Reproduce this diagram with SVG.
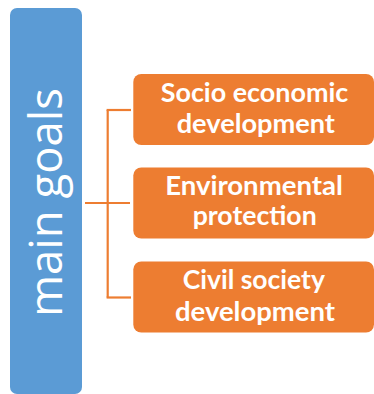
<svg xmlns="http://www.w3.org/2000/svg" width="374" height="394" viewBox="0 0 374 394">
  <style>
    .box { fill: #ED7D31; }
    .lbl { font-family: Lato, "Liberation Sans", sans-serif; font-weight: 700; font-size: 26px; fill: #FFFFFF; text-anchor: middle; }
    .conn { stroke: #ED7D31; stroke-width: 2.2; fill: none; }
    .main { font-family: "Open Sans", "Liberation Sans", sans-serif; font-weight: 400; font-size: 45px; fill: #FFFFFF; text-anchor: middle; }
  </style>
  <rect width="374" height="394" fill="#FFFFFF"/>
  <g id="connectors">
    <line class="conn" x1="107.7" y1="110" x2="107.7" y2="297.5"/>
    <line class="conn" x1="106.6" y1="110" x2="131" y2="110"/>
    <line class="conn" x1="106.6" y1="297.5" x2="131" y2="297.5"/>
    <line class="conn" x1="85" y1="203" x2="130" y2="203"/>
  </g>
  <g id="main-goals">
    <rect x="10" y="8" width="72" height="386" rx="7" fill="#5B9BD5"/>
    <text class="main" transform="translate(62,202.5) rotate(-90)" textLength="229" lengthAdjust="spacingAndGlyphs">main goals</text>
  </g>
  <g id="socio-economic">
    <rect class="box" x="133.3" y="74" width="240.7" height="71" rx="8"/>
    <text class="lbl" x="254.5" y="102.3" textLength="187.6" lengthAdjust="spacingAndGlyphs">Socio economic</text>
    <text class="lbl" x="255.8" y="133.3" textLength="158.3" lengthAdjust="spacingAndGlyphs">development</text>
  </g>
  <g id="environmental">
    <rect class="box" x="133.3" y="167.5" width="240.7" height="71" rx="8"/>
    <text class="lbl" x="254" y="194.7" textLength="177.7" lengthAdjust="spacingAndGlyphs">Environmental</text>
    <text class="lbl" x="254.7" y="225.3" textLength="124" lengthAdjust="spacingAndGlyphs">protection</text>
  </g>
  <g id="civil-society">
    <rect class="box" x="133.3" y="261.5" width="240.7" height="71" rx="8"/>
    <text class="lbl" x="253.8" y="288.7" textLength="142.3" lengthAdjust="spacingAndGlyphs">Civil society</text>
    <text class="lbl" x="255" y="321.3" textLength="160" lengthAdjust="spacingAndGlyphs">development</text>
  </g>
</svg>
